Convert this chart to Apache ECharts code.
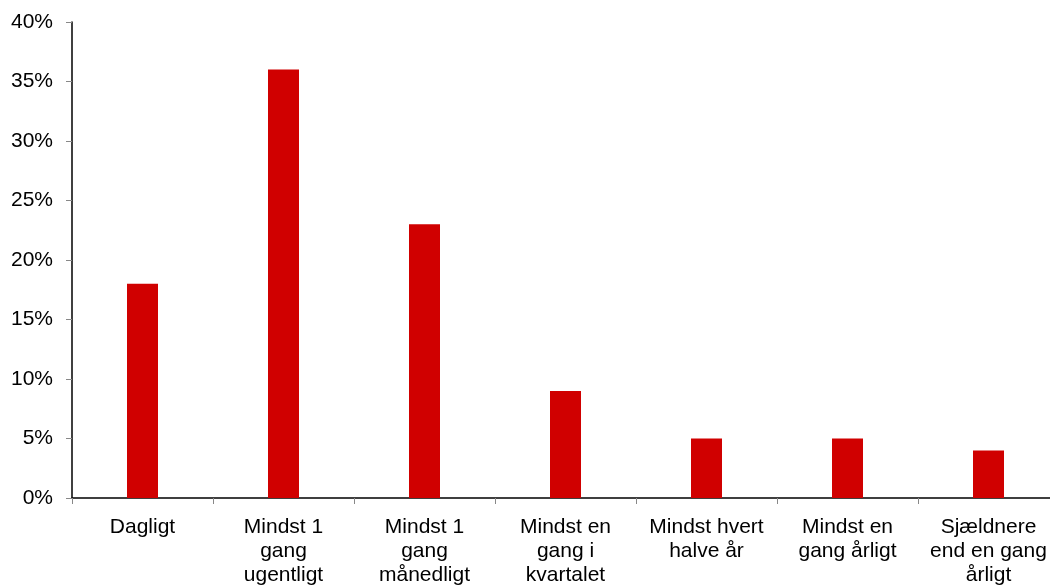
<!DOCTYPE html>
<html>
<head>
<meta charset="utf-8">
<script src="https://cdn.jsdelivr.net/npm/echarts@6/dist/echarts.min.js"></script>
<style>
  html, body { margin: 0; padding: 0; background: #fff; }
  #chart { width: 1050px; height: 588px; }
</style>
</head>
<body>
<div id="chart"></div>
<script>
// frekvens-kategorier
const categories = [
  'Dagligt',
  'Mindst 1\ngang\nugentligt',
  'Mindst 1\ngang\nmånedligt',
  'Mindst en\ngang i\nkvartalet',
  'Mindst hvert\nhalve år',
  'Mindst en\ngang årligt',
  'Sjældnere\nend en gang\nårligt'
]
const shares = [18, 36, 23, 9, 5, 5, 4]
const yTicks = { min: 0, max: 40, step: 5 }

const myChart = echarts.init(document.getElementById('chart'))
const labelFont = {
  color: '#000',
  fontSize: 21,
  fontFamily: 'Liberation Sans, Arial, sans-serif'
}

myChart.setOption({
  animation: false,
  // plot runs a little past the right edge, like the original
  grid: { left: 72, width: 987, top: 22, height: 476, outerBoundsMode: 'none', containLabel: false },
  xAxis: {
    type: 'category',
    data: categories,
    boundaryGap: true,
    axisLine: { lineStyle: { color: '#000', width: 1.5 } },
    axisTick: { show: true, length: 6, lineStyle: { color: '#888' } },
    axisLabel: { ...labelFont, interval: 0, margin: 17, lineHeight: 24 }
  },
  yAxis: {
    type: 'value',
    min: yTicks.min,
    max: yTicks.max,
    interval: yTicks.step,
    splitLine: { show: false },
    axisLine: { show: true, lineStyle: { color: '#000', width: 1.5 } },
    axisTick: { show: true, length: 6, lineStyle: { color: '#888' } },
    axisLabel: { ...labelFont, margin: 19, formatter: '{value}%' }
  },
  series: [
    {
      type: 'bar',
      data: shares,
      barWidth: 31,
      itemStyle: { color: '#d00000' }
    }
  ]
})
</script>
</body>
</html>
